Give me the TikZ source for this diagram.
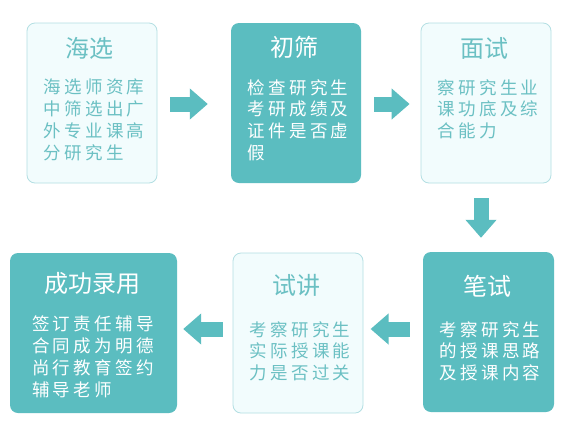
\documentclass[tikz,border=0pt]{standalone}
\usepackage{fontspec}
\usetikzlibrary{arrows.meta,calc}
\newfontfamily\cjktitle{Noto Sans CJK SC}
\newfontfamily\cjkbody[LetterSpace=19]{Noto Sans CJK SC}
\definecolor{teal}{HTML}{5BBDC0}
\definecolor{lightfill}{HTML}{F2FCFD}
\definecolor{lightborder}{HTML}{B3DFE3}
\definecolor{lighttext}{HTML}{6BC0C3}
\tikzset{
  darkbox/.style={draw=none, fill=teal, rounded corners=8pt, inner sep=0pt},
  lightbox/.style={draw=lightborder, line width=0.8pt, fill=lightfill, rounded corners=8pt, inner sep=0pt},
  titledark/.style={text=white, font=\cjktitle\fontsize{24}{28}\selectfont, inner sep=0pt},
  titlelight/.style={text=lighttext, font=\cjktitle\fontsize{24}{28}\selectfont, inner sep=0pt},
  bodydark/.style={text=white, font=\cjkbody\fontsize{17.5}{21.8}\selectfont, align=left, anchor=north, inner sep=0pt},
  bodylight/.style={text=lighttext, font=\cjkbody\fontsize{17.5}{21.8}\selectfont, align=left, anchor=north, inner sep=0pt},
  blockarrow/.style={draw=teal, line width=15pt, -{Triangle[length=18pt,width=30pt]}}
}
\begin{document}
\begin{tikzpicture}[x=1pt,y=-1pt]
\useasboundingbox[fill=white] (0,0) rectangle (578,432);
% boxes
\node[lightbox, minimum width=130pt, minimum height=160pt] (b1) at (92,103) {};
\node[darkbox, minimum width=130pt, minimum height=160pt] (b2) at (296,103) {};
\node[lightbox, minimum width=130pt, minimum height=160pt] (b3) at (486,103) {};
\node[darkbox, minimum width=131pt, minimum height=160pt] (b4) at (488.5,332) {};
\node[lightbox, minimum width=130pt, minimum height=160pt] (b5) at (298,333) {};
\node[darkbox, minimum width=167pt, minimum height=160pt] (b6) at (93.5,333) {};
% titles
\node[titlelight] (t1) at (89,48) {海选};
\node[titledark] (t2) at (294,47) {初筛};
\node[titlelight] (t3) at (484,48) {面试};
\node[titledark] (t4) at (487,286) {笔试};
\node[titlelight] (t5) at (296,285) {试讲};
\node[titledark] (t6) at (92,283) {成功录用};
% bodies
\node[bodylight] (d1) at (94,79) {海选师资库\\中筛选出广\\外专业课高\\分研究生};
\node[bodydark] (d2) at (298,79) {检查研究生\\考研成绩及\\证件是否虚\\假};
\node[bodylight] (d3) at (488,79) {察研究生业\\课功底及综\\合能力};
\node[bodydark] (d4) at (490,321) {考察研究生\\的授课思路\\及授课内容};
\node[bodylight] (d5) at (300,321) {考察研究生\\实际授课能\\力是否过关};
\node[bodydark] (d6) at (93,316) {签订责任辅导\\合同成为明德\\尚行教育签约\\辅导老师};
% arrows
\draw[blockarrow, shorten <=13pt, shorten >=23pt] ($(b1.east)+(0,1)$) -- ($(b2.west)+(0,1)$);
\draw[blockarrow, shorten <=13pt, shorten >=11pt] ($(b2.east)+(0,1)$) -- ($(b3.west)+(0,1)$);
\draw[blockarrow, shorten <=15pt, shorten >=14pt] ($(b3.south)+(-5,0)$) -- ($(b4.north)+(-7.5,0)$);
\draw[blockarrow, shorten <=13pt, shorten >=8pt] ($(b4.west)+(0,-3)$) -- ($(b5.west)+(130,-4)$);
\draw[blockarrow, shorten <=10pt, shorten >=6pt] ($(b5.west)+(0,-4)$) -- ($(b6.east)+(0,-4)$);
\end{tikzpicture}
\end{document}
